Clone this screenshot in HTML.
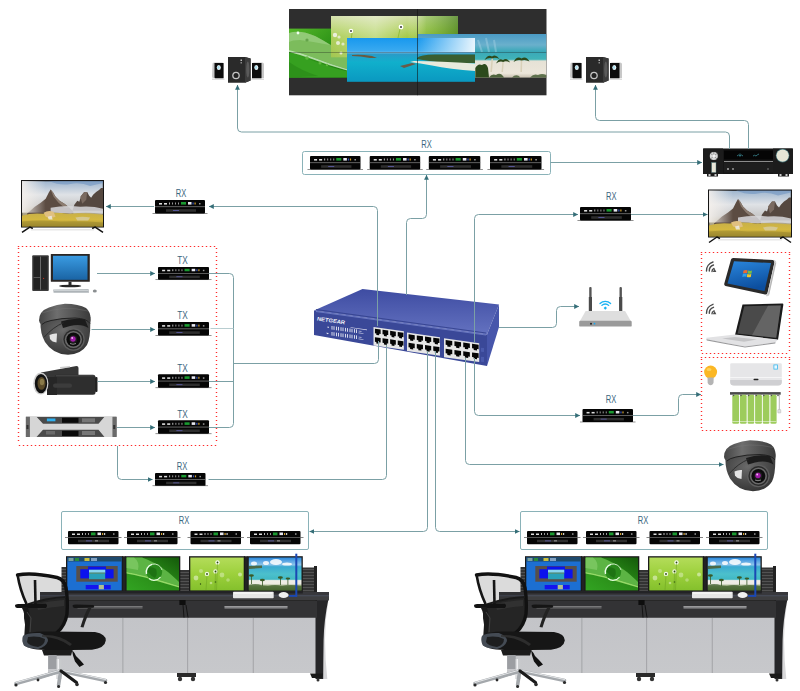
<!DOCTYPE html>
<html><head><meta charset="utf-8">
<style>
html,body{margin:0;padding:0;background:#fff;width:800px;height:691px;overflow:hidden;}
svg{display:block;font-family:"Liberation Sans",sans-serif;}
</style></head><body>
<svg width="800" height="691" viewBox="0 0 800 691">
<defs>
  <marker id="ar" viewBox="0 0 5 5" refX="4.8" refY="2.5" markerWidth="5" markerHeight="5" markerUnits="userSpaceOnUse" orient="auto">
    <path d="M0,0.1 L5,2.5 L0,4.9 z" fill="#356e78"/>
  </marker>
  <!-- extender device, body 50x13.5 -->
  <g id="dev">
    <rect x="-2.5" y="13" width="55" height="0.8" fill="#777"/>
    <rect x="0" y="0" width="50" height="13.5" rx="1" fill="#050505"/>
    <rect x="0" y="6.4" width="50" height="0.7" fill="#8a8a8a"/>
    <rect x="4" y="3" width="3" height="1.6" fill="#ddd"/>
    <rect x="9" y="3" width="3" height="1.6" fill="#ddd"/>
    <rect x="14" y="2.5" width="1" height="2" fill="#bbb"/>
    <rect x="17" y="2.5" width="1" height="2" fill="#999"/>
    <rect x="20" y="2.5" width="1" height="2" fill="#999"/>
    <rect x="23" y="2.5" width="1" height="2" fill="#999"/>
    <rect x="26" y="2" width="5" height="2.6" fill="#1a9a30"/>
    <rect x="33" y="2" width="3.5" height="2.6" fill="#e8e8f0"/>
    <rect x="37.5" y="2.5" width="1.2" height="2" fill="#3050c0"/>
    <rect x="39.5" y="2.5" width="1.2" height="2" fill="#d0a030"/>
    <rect x="44" y="3" width="1.5" height="1.5" fill="#999"/>
    <rect x="11" y="9.2" width="30" height="2.6" fill="#2e2e2e"/>
    <rect x="18" y="10" width="6" height="0.8" fill="#6060b0"/>
  </g>
  <g id="dev2">
    <rect x="0" y="0" width="50.5" height="13.2" rx="1" fill="#050505"/>
    <rect x="-3" y="6" width="56.5" height="0.8" fill="#666"/>
    <rect x="4" y="2.5" width="3" height="1.5" fill="#ddd"/>
    <rect x="9" y="2.5" width="3" height="1.5" fill="#ddd"/>
    <rect x="14" y="2" width="1" height="2" fill="#bbb"/>
    <rect x="17" y="2" width="1" height="2" fill="#999"/>
    <rect x="20" y="2" width="1" height="2" fill="#999"/>
    <rect x="23" y="1.5" width="4.5" height="2.8" fill="#1a9a30"/>
    <rect x="29.5" y="1.5" width="3.5" height="2.6" fill="#e8e8f0"/>
    <rect x="34" y="2" width="1.2" height="2" fill="#d0a030"/>
    <rect x="36" y="2" width="1.2" height="2" fill="#ccc"/>
    <rect x="45" y="2.3" width="1.5" height="1.5" fill="#999"/>
    <rect x="10" y="8.8" width="31" height="2.4" fill="#2e2e2e"/>
    <rect x="18" y="9.5" width="6" height="0.8" fill="#6060b0"/>
    <rect x="27" y="9.5" width="3" height="0.8" fill="#bbb"/>
  </g>
  <linearGradient id="tvsky" x1="0" y1="0" x2="0" y2="1">
    <stop offset="0" stop-color="#9fb6cf"/>
    <stop offset="0.3" stop-color="#dfe2e6"/>
    <stop offset="0.55" stop-color="#c8c8c8"/>
    <stop offset="0.7" stop-color="#b0a890"/>
    <stop offset="1" stop-color="#a08a3a"/>
  </linearGradient>
  <linearGradient id="tvmead" x1="0" y1="0" x2="0" y2="1">
    <stop offset="0" stop-color="#c8b048"/>
    <stop offset="0.5" stop-color="#d4b840"/>
    <stop offset="1" stop-color="#a89030"/>
  </linearGradient>
  <linearGradient id="tvleft" x1="0" y1="0" x2="1" y2="0">
    <stop offset="0" stop-color="#f4f0ec" stop-opacity="0.9"/>
    <stop offset="1" stop-color="#f4f0ec" stop-opacity="0"/>
  </linearGradient>
  <g id="tv">
    <rect x="0" y="0" width="84" height="48" fill="#151515"/>
    <rect x="1.2" y="1.3" width="81.6" height="45.5" fill="url(#tvsky)"/>
    <path d="M28,1 Q40,6 50,4 Q60,2 70,6 L83,3 L83,1z" fill="#6a90c0" opacity="0.55"/>
    <path d="M6,34 L14,27 L20,23 L25,19 L28,13 L30,9.5 L32.5,12.5 L35,17 L39,21 L44,24 L49,28 L53,32 L53,37 L6,37z" fill="#5c4c42"/>
    <path d="M30,9.5 L32.5,12.5 L35,17 L39,21 L44,24 L49,28 L44,28 L38,23 L33,17z" fill="#8c7c70"/>
    <path d="M52,31 L54,25 L57,21 L59,22 L61,16 L64,12 L67,12 L69,16 L71,18 L73,15 L76,12 L79,10 L81,8 L83,8 L83,31z" fill="#554840"/>
    <path d="M60,17 L64,12 L67,12 L66,20 L62,24z" fill="#7a6a60"/>
    <rect x="1" y="1" width="24" height="32" fill="url(#tvleft)"/>
    <path d="M30,28 Q45,25 60,27 Q72,26 83,29 L83,34 Q65,32 50,34 Q40,33 30,33z" fill="#d8d8dc" opacity="0.85"/>
    <path d="M1,36 Q10,33 22,34 Q34,32 48,34 Q62,33 83,35 L83,47 L1,47z" fill="url(#tvmead)"/>
    <path d="M23,33 Q27,30.5 33,32 L35,37 Q30,39 25,37z" fill="#e0c080"/>
    <path d="M27,37 L31,36 L32,40 L28,40z" fill="#eeeeee" opacity="0.8"/>
    <path d="M55,38 Q62,36 70,38 L68,41 L57,41z" fill="#d8d4c8" opacity="0.6"/>
    <path d="M1,42 Q20,40 40,42 Q60,41 83,43 L83,47 L1,47z" fill="#8a7a2a" opacity="0.4"/>
    <path d="M1,53 L9,47.5 L12,49" stroke="#111" stroke-width="1.5" fill="none"/>
    <path d="M83,53 L75,47.5 L72,49" stroke="#111" stroke-width="1.5" fill="none"/>
    <rect x="10" y="49.5" width="64" height="1.5" fill="#d8d8d8" opacity="0.6"/>
  </g>
</defs>


<!-- ============ VIDEO WALL ============ -->
<defs>
  <linearGradient id="grass" x1="0" y1="0" x2="0" y2="1">
    <stop offset="0" stop-color="#d2dea6"/>
    <stop offset="0.25" stop-color="#bcd676"/>
    <stop offset="0.5" stop-color="#a6ca4a"/>
    <stop offset="1" stop-color="#98c03c"/>
  </linearGradient>
  <linearGradient id="grass2" x1="0" y1="0" x2="1" y2="0">
    <stop offset="0" stop-color="#fff" stop-opacity="0.1"/>
    <stop offset="0.35" stop-color="#fff" stop-opacity="0.35"/>
    <stop offset="0.6" stop-color="#fff" stop-opacity="0.0"/>
    <stop offset="0.75" stop-color="#4a9a10" stop-opacity="0.3"/>
    <stop offset="1" stop-color="#2a6a08" stop-opacity="0.6"/>
  </linearGradient>
  <linearGradient id="leaf" x1="0" y1="0" x2="1" y2="1">
    <stop offset="0" stop-color="#56b82a"/>
    <stop offset="0.5" stop-color="#2f9418"/>
    <stop offset="1" stop-color="#1e7a10"/>
  </linearGradient>
  <linearGradient id="ocean" x1="0" y1="0" x2="0" y2="1">
    <stop offset="0" stop-color="#1898ee"/>
    <stop offset="0.3" stop-color="#3aaaf0"/>
    <stop offset="0.34" stop-color="#8ac8ea"/>
    <stop offset="0.36" stop-color="#2a9ac8"/>
    <stop offset="0.55" stop-color="#10b0cc"/>
    <stop offset="1" stop-color="#0a98c0"/>
  </linearGradient>
  <linearGradient id="oceansky" x1="0" y1="0" x2="1" y2="0">
    <stop offset="0.55" stop-color="#fff" stop-opacity="0"/>
    <stop offset="1" stop-color="#fff" stop-opacity="0.9"/>
  </linearGradient>
  <linearGradient id="beach" x1="0" y1="0" x2="0" y2="1">
    <stop offset="0" stop-color="#4a9ac4"/>
    <stop offset="0.25" stop-color="#6ab0cc"/>
    <stop offset="0.4" stop-color="#3aa8b8"/>
    <stop offset="0.58" stop-color="#40b4b8"/>
    <stop offset="0.62" stop-color="#e6e2d6"/>
    <stop offset="0.9" stop-color="#ece6da"/>
    <stop offset="1" stop-color="#c8c0b0"/>
  </linearGradient>
</defs>
<rect x="289" y="9" width="257.5" height="86.3" fill="#2e2e2e"/>
<rect x="289" y="28.6" width="58" height="49" fill="url(#leaf)"/>
<path d="M289,33 Q300,29.5 315,36 Q332,45 347,55 L347,69 Q330,64 312,57 Q298,52 289,50z" fill="#7cbc5c"/>
<path d="M289,33 Q300,29.5 315,36 Q325,41 330,45 Q315,42 300,40 Q292,40 289,42z" fill="#a0d488" opacity="0.6"/>
<path d="M289,50 Q298,52 312,57 Q330,64 347,69 L347,70.5 Q330,66 312,59 Q298,54 289,52z" fill="#d8f0d0" opacity="0.8"/>
<path d="M289,52 Q305,58 325,65 Q340,70 347,71 L347,77.6 L289,77.6z" fill="#36a020"/>
<path d="M289,62 Q300,70 318,76 L289,77.6z" fill="#2a8a18" opacity="0.7"/>
<circle cx="298" cy="33" r="1.4" fill="#f0fff0"/>
<circle cx="307" cy="40" r="1.6" fill="#5a9a40" opacity="0.8"/>
<circle cx="307" cy="58" r="1.8" fill="#60b840" opacity="0.9"/>
<circle cx="320" cy="63" r="1.5" fill="#60b840" opacity="0.9"/>
<circle cx="327" cy="65" r="1.3" fill="#60b840" opacity="0.9"/>
<rect x="331" y="16" width="127" height="41.3" fill="url(#grass)"/>
<rect x="331" y="16" width="127" height="41.3" fill="url(#grass2)"/>
<circle cx="351" cy="31" r="2.2" fill="#fff"/><circle cx="351" cy="31" r="0.9" fill="#333"/>
<circle cx="401" cy="27" r="2.4" fill="#fff"/><circle cx="401" cy="27" r="1" fill="#333"/>
<circle cx="335" cy="35" r="2.2" fill="#f4f4f0" opacity="0.85"/>
<circle cx="339" cy="37" r="1.6" fill="#f4f4f0" opacity="0.7"/>
<circle cx="338" cy="43" r="2" fill="#f4f4f0" opacity="0.8"/>
<circle cx="343" cy="44" r="1.6" fill="#f4f4f0" opacity="0.7"/>
<circle cx="341" cy="53" r="1.5" fill="#f4f4f0" opacity="0.8"/>
<path d="M352,33 L349,57 M400,29 L398,38" stroke="#8ab830" stroke-width="0.8"/>
<rect x="418" y="34" width="128.3" height="43.6" fill="url(#beach)"/>
<path d="M478,40 L482,52 M486,38 L489,52 M494,40 L496,52" stroke="#b8dcec" stroke-width="2" opacity="0.35"/>
<g fill="#2c4a1c">
  <path d="M490.3,72 L491.6,58 L493,58 L492,72z" fill="#d8d0b8"/>
  <path d="M501.5,72 L502.5,61 L503.8,61 L503,72z" fill="#d8d0b8"/>
  <path d="M520.4,72 L520.8,60 L522.2,60 L522,72z" fill="#d8d0b8"/>
  <path d="M484.5,60 Q488,54 492,56.5 Q496,53.5 499.5,59 Q495,57 492.3,58.5 Q489,57 484.5,60z"/>
  <path d="M496,63.5 Q499,57.5 503,60 Q507,57 510,62.5 Q506,60.5 503.2,62 Q500,60.5 496,63.5z"/>
  <path d="M513.5,62 Q517,55.5 521.5,58.5 Q526,55.5 529.5,61.5 Q525,59 521.6,60.5 Q518,59 513.5,62z"/>
  <path d="M475.3,77.6 L475.3,68 Q478,63 482,65 Q486,62 488,68 L489,77.6z"/>
  <path d="M489,77.6 Q492,73 496,75 Q500,72 503,76 L504,77.6z" opacity="0.8"/>
  <path d="M512,77.6 Q515,74 519,76 L520,77.6z" opacity="0.7"/>
  <path d="M530,77.6 Q534,73 538,75 Q542,73 546.3,75 L546.3,77.6z" opacity="0.7"/>
</g>
<rect x="347" y="38" width="128" height="43.8" fill="url(#ocean)"/>
<rect x="347" y="38" width="128" height="14" fill="url(#oceansky)"/>
<path d="M352,55 Q360,54 372,56 L377,58 L370,58 Q360,56 352,56z" fill="#6a5a40"/>
<path d="M417,58 Q420,54.5 435,54.5 L475,54.5 L475,63 L445,63 Q428,61 417,59z" fill="#3a5e30"/>
<path d="M414,61 Q440,61 475,63.5 L475,71 Q450,69 432,65.5 Q420,63 410,62z" fill="#e8eadc"/>
<path d="M400,66 L412,63 L416,64 L404,68z" fill="#6a5a48"/>
<line x1="289" y1="52.6" x2="546.3" y2="52.6" stroke="#1a1a1a" stroke-width="0.6" opacity="0.6"/>
<line x1="417.4" y1="9" x2="417.4" y2="95.3" stroke="#111" stroke-width="0.8" opacity="0.8"/>

<!-- ============ SPEAKERS ============ -->
<g id="spk">
  <path d="M212.5,63.5 Q213,62.5 215,62.5 L222,62.5 Q224,62.5 224,64 L224,78 L213,78 Q212,78 212,76z" fill="#c8c8c8"/>
  <path d="M214.5,63 L223.5,63 L223.5,78.5 L215.5,78.5 Q214.5,78.5 214.5,77z" fill="#0c0c0c"/>
  <ellipse cx="218.8" cy="67.5" rx="2" ry="2.5" fill="#e8f4f8"/>
  <ellipse cx="218.5" cy="67.5" rx="1.1" ry="1.4" fill="#a8e0f0"/>
  <rect x="212" y="78.5" width="12.5" height="1.5" fill="#ddd"/>
  <path d="M228,57 L245,57 L250.6,58.5 L250.6,80.5 L245,82.7 L228,82.7z" fill="#2a2a2a"/>
  <path d="M245,57 L250.6,58.5 L250.6,80.5 L245,82.7z" fill="#3c3c3c"/>
  <ellipse cx="247.8" cy="69.5" rx="1.6" ry="8" fill="#5a5a5a"/>
  <circle cx="236" cy="75.5" r="3.8" fill="#c4c4c4"/>
  <circle cx="236" cy="75.5" r="2.5" fill="#222"/>
  <rect x="240.5" y="59.5" width="1.5" height="1.5" fill="#bbb"/>
  <rect x="240.5" y="62" width="1.5" height="1.5" fill="#888"/>
  <path d="M252,64 Q252,62.5 254,62.5 L262,62.5 Q264,62.5 264,64 L264,78 L252,78z" fill="#c8c8c8"/>
  <path d="M252,63 L261.5,63 L261.5,78.5 L252,78.5z" fill="#0c0c0c"/>
  <ellipse cx="256.3" cy="67.5" rx="2" ry="2.5" fill="#e8f4f8"/>
  <ellipse cx="256" cy="67.5" rx="1.1" ry="1.4" fill="#a8e0f0"/>
  <rect x="251.5" y="78.5" width="12.5" height="1.5" fill="#ddd"/>
</g>
<use href="#spk" x="358" y="0"/>

<!-- ============ AV RECEIVER ============ -->
<g>
  <rect x="703" y="148.5" width="90" height="25.5" rx="1.2" fill="#161616"/>
  <rect x="707" y="173.5" width="11" height="3" fill="#1a1a1a"/>
  <rect x="708.5" y="174" width="2" height="2" fill="#ccc"/>
  <rect x="714.5" y="174" width="2" height="2" fill="#ccc"/>
  <rect x="778" y="173.5" width="11" height="3" fill="#1a1a1a"/>
  <rect x="779.5" y="174" width="2" height="2" fill="#ccc"/>
  <rect x="785.5" y="174" width="2" height="2" fill="#ccc"/>
  <rect x="703" y="148.5" width="20" height="25.5" fill="#1c1c1c"/>
  <circle cx="713.8" cy="156" r="4.6" fill="#2a2a2a"/>
  <circle cx="713.8" cy="156" r="4" fill="#d8d8d8"/>
  <path d="M713.8,156 L710,153 M713.8,156 L717.6,153 M713.8,156 L713.8,152 M713.8,156 L710.5,159 M713.8,156 L717,159" stroke="#666" stroke-width="0.6"/>
  <circle cx="713.8" cy="156" r="1.4" fill="#f4f4f4"/>
  <rect x="711.6" y="162.5" width="4.4" height="10" fill="#e9e6d8" stroke="#4a7a80" stroke-width="0.4"/>
  <rect x="724" y="150.5" width="49" height="9" fill="#050505"/>
  <path d="M737,156 q1.5,-2 3,0 q1.5,-2 3,0 M740,153.5 v3 M753,156 q1.5,-1.5 3,0 q1.5,-1.5 3,-2" stroke="#3a8a96" stroke-width="0.8" fill="none"/>
  <rect x="724" y="161" width="49" height="0.9" fill="#9a9a9a"/>
  <rect x="724" y="162.5" width="49" height="10" fill="#1e1e1e"/>
  <rect x="727" y="168" width="2" height="2" fill="#888"/>
  <rect x="732" y="168" width="2" height="2" fill="#777"/>
  <circle cx="768" cy="169" r="1.1" fill="#555"/>
  <rect x="773" y="148.5" width="20" height="25.5" fill="#1c1c1c"/>
  <circle cx="782.6" cy="155.6" r="6.8" fill="#3a6a70"/>
  <circle cx="782.6" cy="155.6" r="6.2" fill="#e6e6d6"/>
</g>

<!-- ============ RX TOP CONTAINER ============ -->
<rect x="302.5" y="151.5" width="248" height="23" rx="2" fill="none" stroke="#8ab2b8" stroke-width="1"/>

<!-- ============ TVs ============ -->
<use href="#tv" transform="translate(21,180) scale(0.988,0.99)"/>
<use href="#tv" x="708" y="189.5"/>

<!-- ============ DOTTED BOXES ============ -->
<path fill="#ff2a2a" d="M17.8,246h1.4v1h-1.4zM21.8,246h1.4v1h-1.4zM25.8,246h1.4v1h-1.4zM29.8,246h1.4v1h-1.4zM33.8,246h1.4v1h-1.4zM37.8,246h1.4v1h-1.4zM41.8,246h1.4v1h-1.4zM45.8,246h1.4v1h-1.4zM49.8,246h1.4v1h-1.4zM53.8,246h1.4v1h-1.4zM57.8,246h1.4v1h-1.4zM61.8,246h1.4v1h-1.4zM65.8,246h1.4v1h-1.4zM69.8,246h1.4v1h-1.4zM73.8,246h1.4v1h-1.4zM77.8,246h1.4v1h-1.4zM81.8,246h1.4v1h-1.4zM85.8,246h1.4v1h-1.4zM89.8,246h1.4v1h-1.4zM93.8,246h1.4v1h-1.4zM97.8,246h1.4v1h-1.4zM101.8,246h1.4v1h-1.4zM105.8,246h1.4v1h-1.4zM109.8,246h1.4v1h-1.4zM113.8,246h1.4v1h-1.4zM117.8,246h1.4v1h-1.4zM121.8,246h1.4v1h-1.4zM125.8,246h1.4v1h-1.4zM129.8,246h1.4v1h-1.4zM133.8,246h1.4v1h-1.4zM137.8,246h1.4v1h-1.4zM141.8,246h1.4v1h-1.4zM145.8,246h1.4v1h-1.4zM149.8,246h1.4v1h-1.4zM153.8,246h1.4v1h-1.4zM157.8,246h1.4v1h-1.4zM161.8,246h1.4v1h-1.4zM165.8,246h1.4v1h-1.4zM169.8,246h1.4v1h-1.4zM173.8,246h1.4v1h-1.4zM177.8,246h1.4v1h-1.4zM181.8,246h1.4v1h-1.4zM185.8,246h1.4v1h-1.4zM189.8,246h1.4v1h-1.4zM193.8,246h1.4v1h-1.4zM197.8,246h1.4v1h-1.4zM201.8,246h1.4v1h-1.4zM205.8,246h1.4v1h-1.4zM209.8,246h1.4v1h-1.4zM213.8,246h1.4v1h-1.4zM18.8,445h1.4v1h-1.4zM22.8,445h1.4v1h-1.4zM26.8,445h1.4v1h-1.4zM30.8,445h1.4v1h-1.4zM34.8,445h1.4v1h-1.4zM38.8,445h1.4v1h-1.4zM42.8,445h1.4v1h-1.4zM46.8,445h1.4v1h-1.4zM50.8,445h1.4v1h-1.4zM54.8,445h1.4v1h-1.4zM58.8,445h1.4v1h-1.4zM62.8,445h1.4v1h-1.4zM66.8,445h1.4v1h-1.4zM70.8,445h1.4v1h-1.4zM74.8,445h1.4v1h-1.4zM78.8,445h1.4v1h-1.4zM82.8,445h1.4v1h-1.4zM86.8,445h1.4v1h-1.4zM90.8,445h1.4v1h-1.4zM94.8,445h1.4v1h-1.4zM98.8,445h1.4v1h-1.4zM102.8,445h1.4v1h-1.4zM106.8,445h1.4v1h-1.4zM110.8,445h1.4v1h-1.4zM114.8,445h1.4v1h-1.4zM118.8,445h1.4v1h-1.4zM122.8,445h1.4v1h-1.4zM126.8,445h1.4v1h-1.4zM130.8,445h1.4v1h-1.4zM134.8,445h1.4v1h-1.4zM138.8,445h1.4v1h-1.4zM142.8,445h1.4v1h-1.4zM146.8,445h1.4v1h-1.4zM150.8,445h1.4v1h-1.4zM154.8,445h1.4v1h-1.4zM158.8,445h1.4v1h-1.4zM162.8,445h1.4v1h-1.4zM166.8,445h1.4v1h-1.4zM170.8,445h1.4v1h-1.4zM174.8,445h1.4v1h-1.4zM178.8,445h1.4v1h-1.4zM182.8,445h1.4v1h-1.4zM186.8,445h1.4v1h-1.4zM190.8,445h1.4v1h-1.4zM194.8,445h1.4v1h-1.4zM198.8,445h1.4v1h-1.4zM202.8,445h1.4v1h-1.4zM206.8,445h1.4v1h-1.4zM210.8,445h1.4v1h-1.4zM214.8,445h1.4v1h-1.4zM17.8,248h1.4v1h-1.4zM215.8,248h1.4v1h-1.4zM17.8,252h1.4v1h-1.4zM215.8,252h1.4v1h-1.4zM17.8,256h1.4v1h-1.4zM215.8,256h1.4v1h-1.4zM17.8,260h1.4v1h-1.4zM215.8,260h1.4v1h-1.4zM17.8,264h1.4v1h-1.4zM215.8,264h1.4v1h-1.4zM17.8,268h1.4v1h-1.4zM215.8,268h1.4v1h-1.4zM17.8,272h1.4v1h-1.4zM215.8,272h1.4v1h-1.4zM17.8,276h1.4v1h-1.4zM215.8,276h1.4v1h-1.4zM17.8,280h1.4v1h-1.4zM215.8,280h1.4v1h-1.4zM17.8,284h1.4v1h-1.4zM215.8,284h1.4v1h-1.4zM17.8,288h1.4v1h-1.4zM215.8,288h1.4v1h-1.4zM17.8,292h1.4v1h-1.4zM215.8,292h1.4v1h-1.4zM17.8,296h1.4v1h-1.4zM215.8,296h1.4v1h-1.4zM17.8,300h1.4v1h-1.4zM215.8,300h1.4v1h-1.4zM17.8,304h1.4v1h-1.4zM215.8,304h1.4v1h-1.4zM17.8,308h1.4v1h-1.4zM215.8,308h1.4v1h-1.4zM17.8,312h1.4v1h-1.4zM215.8,312h1.4v1h-1.4zM17.8,316h1.4v1h-1.4zM215.8,316h1.4v1h-1.4zM17.8,320h1.4v1h-1.4zM215.8,320h1.4v1h-1.4zM17.8,324h1.4v1h-1.4zM215.8,324h1.4v1h-1.4zM17.8,328h1.4v1h-1.4zM215.8,328h1.4v1h-1.4zM17.8,332h1.4v1h-1.4zM215.8,332h1.4v1h-1.4zM17.8,336h1.4v1h-1.4zM215.8,336h1.4v1h-1.4zM17.8,340h1.4v1h-1.4zM215.8,340h1.4v1h-1.4zM17.8,344h1.4v1h-1.4zM215.8,344h1.4v1h-1.4zM17.8,348h1.4v1h-1.4zM215.8,348h1.4v1h-1.4zM17.8,352h1.4v1h-1.4zM215.8,352h1.4v1h-1.4zM17.8,356h1.4v1h-1.4zM215.8,356h1.4v1h-1.4zM17.8,360h1.4v1h-1.4zM215.8,360h1.4v1h-1.4zM17.8,364h1.4v1h-1.4zM215.8,364h1.4v1h-1.4zM17.8,368h1.4v1h-1.4zM215.8,368h1.4v1h-1.4zM17.8,372h1.4v1h-1.4zM215.8,372h1.4v1h-1.4zM17.8,376h1.4v1h-1.4zM215.8,376h1.4v1h-1.4zM17.8,380h1.4v1h-1.4zM215.8,380h1.4v1h-1.4zM17.8,384h1.4v1h-1.4zM215.8,384h1.4v1h-1.4zM17.8,388h1.4v1h-1.4zM215.8,388h1.4v1h-1.4zM17.8,392h1.4v1h-1.4zM215.8,392h1.4v1h-1.4zM17.8,396h1.4v1h-1.4zM215.8,396h1.4v1h-1.4zM17.8,400h1.4v1h-1.4zM215.8,400h1.4v1h-1.4zM17.8,404h1.4v1h-1.4zM215.8,404h1.4v1h-1.4zM17.8,408h1.4v1h-1.4zM215.8,408h1.4v1h-1.4zM17.8,412h1.4v1h-1.4zM215.8,412h1.4v1h-1.4zM17.8,416h1.4v1h-1.4zM215.8,416h1.4v1h-1.4zM17.8,420h1.4v1h-1.4zM215.8,420h1.4v1h-1.4zM17.8,424h1.4v1h-1.4zM215.8,424h1.4v1h-1.4zM17.8,428h1.4v1h-1.4zM215.8,428h1.4v1h-1.4zM17.8,432h1.4v1h-1.4zM215.8,432h1.4v1h-1.4zM17.8,436h1.4v1h-1.4zM215.8,436h1.4v1h-1.4zM17.8,440h1.4v1h-1.4zM215.8,440h1.4v1h-1.4zM700.8,252h1.4v1h-1.4zM704.8,252h1.4v1h-1.4zM708.8,252h1.4v1h-1.4zM712.8,252h1.4v1h-1.4zM716.8,252h1.4v1h-1.4zM720.8,252h1.4v1h-1.4zM724.8,252h1.4v1h-1.4zM728.8,252h1.4v1h-1.4zM732.8,252h1.4v1h-1.4zM736.8,252h1.4v1h-1.4zM740.8,252h1.4v1h-1.4zM744.8,252h1.4v1h-1.4zM748.8,252h1.4v1h-1.4zM752.8,252h1.4v1h-1.4zM756.8,252h1.4v1h-1.4zM760.8,252h1.4v1h-1.4zM764.8,252h1.4v1h-1.4zM768.8,252h1.4v1h-1.4zM772.8,252h1.4v1h-1.4zM776.8,252h1.4v1h-1.4zM780.8,252h1.4v1h-1.4zM784.8,252h1.4v1h-1.4zM788.8,252h1.4v1h-1.4zM701.8,353h1.4v1h-1.4zM705.8,353h1.4v1h-1.4zM709.8,353h1.4v1h-1.4zM713.8,353h1.4v1h-1.4zM717.8,353h1.4v1h-1.4zM721.8,353h1.4v1h-1.4zM725.8,353h1.4v1h-1.4zM729.8,353h1.4v1h-1.4zM733.8,353h1.4v1h-1.4zM737.8,353h1.4v1h-1.4zM741.8,353h1.4v1h-1.4zM745.8,353h1.4v1h-1.4zM749.8,353h1.4v1h-1.4zM753.8,353h1.4v1h-1.4zM757.8,353h1.4v1h-1.4zM761.8,353h1.4v1h-1.4zM765.8,353h1.4v1h-1.4zM769.8,353h1.4v1h-1.4zM773.8,353h1.4v1h-1.4zM777.8,353h1.4v1h-1.4zM781.8,353h1.4v1h-1.4zM785.8,353h1.4v1h-1.4zM700.8,254h1.4v1h-1.4zM788.8,254h1.4v1h-1.4zM700.8,258h1.4v1h-1.4zM788.8,258h1.4v1h-1.4zM700.8,262h1.4v1h-1.4zM788.8,262h1.4v1h-1.4zM700.8,266h1.4v1h-1.4zM788.8,266h1.4v1h-1.4zM700.8,270h1.4v1h-1.4zM788.8,270h1.4v1h-1.4zM700.8,274h1.4v1h-1.4zM788.8,274h1.4v1h-1.4zM700.8,278h1.4v1h-1.4zM788.8,278h1.4v1h-1.4zM700.8,282h1.4v1h-1.4zM788.8,282h1.4v1h-1.4zM700.8,286h1.4v1h-1.4zM788.8,286h1.4v1h-1.4zM700.8,290h1.4v1h-1.4zM788.8,290h1.4v1h-1.4zM700.8,294h1.4v1h-1.4zM788.8,294h1.4v1h-1.4zM700.8,298h1.4v1h-1.4zM788.8,298h1.4v1h-1.4zM700.8,302h1.4v1h-1.4zM788.8,302h1.4v1h-1.4zM700.8,306h1.4v1h-1.4zM788.8,306h1.4v1h-1.4zM700.8,310h1.4v1h-1.4zM788.8,310h1.4v1h-1.4zM700.8,314h1.4v1h-1.4zM788.8,314h1.4v1h-1.4zM700.8,318h1.4v1h-1.4zM788.8,318h1.4v1h-1.4zM700.8,322h1.4v1h-1.4zM788.8,322h1.4v1h-1.4zM700.8,326h1.4v1h-1.4zM788.8,326h1.4v1h-1.4zM700.8,330h1.4v1h-1.4zM788.8,330h1.4v1h-1.4zM700.8,334h1.4v1h-1.4zM788.8,334h1.4v1h-1.4zM700.8,338h1.4v1h-1.4zM788.8,338h1.4v1h-1.4zM700.8,342h1.4v1h-1.4zM788.8,342h1.4v1h-1.4zM700.8,346h1.4v1h-1.4zM788.8,346h1.4v1h-1.4zM700.8,350h1.4v1h-1.4zM788.8,350h1.4v1h-1.4zM700.8,357h1.4v1h-1.4zM704.8,357h1.4v1h-1.4zM708.8,357h1.4v1h-1.4zM712.8,357h1.4v1h-1.4zM716.8,357h1.4v1h-1.4zM720.8,357h1.4v1h-1.4zM724.8,357h1.4v1h-1.4zM728.8,357h1.4v1h-1.4zM732.8,357h1.4v1h-1.4zM736.8,357h1.4v1h-1.4zM740.8,357h1.4v1h-1.4zM744.8,357h1.4v1h-1.4zM748.8,357h1.4v1h-1.4zM752.8,357h1.4v1h-1.4zM756.8,357h1.4v1h-1.4zM760.8,357h1.4v1h-1.4zM764.8,357h1.4v1h-1.4zM768.8,357h1.4v1h-1.4zM772.8,357h1.4v1h-1.4zM776.8,357h1.4v1h-1.4zM780.8,357h1.4v1h-1.4zM784.8,357h1.4v1h-1.4zM788.8,357h1.4v1h-1.4zM701.8,430h1.4v1h-1.4zM705.8,430h1.4v1h-1.4zM709.8,430h1.4v1h-1.4zM713.8,430h1.4v1h-1.4zM717.8,430h1.4v1h-1.4zM721.8,430h1.4v1h-1.4zM725.8,430h1.4v1h-1.4zM729.8,430h1.4v1h-1.4zM733.8,430h1.4v1h-1.4zM737.8,430h1.4v1h-1.4zM741.8,430h1.4v1h-1.4zM745.8,430h1.4v1h-1.4zM749.8,430h1.4v1h-1.4zM753.8,430h1.4v1h-1.4zM757.8,430h1.4v1h-1.4zM761.8,430h1.4v1h-1.4zM765.8,430h1.4v1h-1.4zM769.8,430h1.4v1h-1.4zM773.8,430h1.4v1h-1.4zM777.8,430h1.4v1h-1.4zM781.8,430h1.4v1h-1.4zM785.8,430h1.4v1h-1.4zM700.8,359h1.4v1h-1.4zM788.8,359h1.4v1h-1.4zM700.8,363h1.4v1h-1.4zM788.8,363h1.4v1h-1.4zM700.8,367h1.4v1h-1.4zM788.8,367h1.4v1h-1.4zM700.8,371h1.4v1h-1.4zM788.8,371h1.4v1h-1.4zM700.8,375h1.4v1h-1.4zM788.8,375h1.4v1h-1.4zM700.8,379h1.4v1h-1.4zM788.8,379h1.4v1h-1.4zM700.8,383h1.4v1h-1.4zM788.8,383h1.4v1h-1.4zM700.8,387h1.4v1h-1.4zM788.8,387h1.4v1h-1.4zM700.8,391h1.4v1h-1.4zM788.8,391h1.4v1h-1.4zM700.8,395h1.4v1h-1.4zM788.8,395h1.4v1h-1.4zM700.8,399h1.4v1h-1.4zM788.8,399h1.4v1h-1.4zM700.8,403h1.4v1h-1.4zM788.8,403h1.4v1h-1.4zM700.8,407h1.4v1h-1.4zM788.8,407h1.4v1h-1.4zM700.8,411h1.4v1h-1.4zM788.8,411h1.4v1h-1.4zM700.8,415h1.4v1h-1.4zM788.8,415h1.4v1h-1.4zM700.8,419h1.4v1h-1.4zM788.8,419h1.4v1h-1.4zM700.8,423h1.4v1h-1.4zM788.8,423h1.4v1h-1.4zM700.8,427h1.4v1h-1.4zM788.8,427h1.4v1h-1.4z"/>


<!-- ============ SWITCH ============ -->
<defs>
  <linearGradient id="swtop" x1="0" y1="0" x2="0" y2="1">
    <stop offset="0" stop-color="#3e4ca2"/>
    <stop offset="1" stop-color="#6472c0"/>
  </linearGradient>
  <g id="portgrp">
    <!-- local: width w=32 height 18 -->
    <rect x="0" y="0" width="32" height="18.5" fill="#e6e6e6"/>
    <g fill="#050505">
      <path d="M1.5,1.5 h6 v4.5 h-1.5 v1.5 h-3 v-1.5 h-1.5z"/>
      <path d="M9.5,1.5 h6 v4.5 h-1.5 v1.5 h-3 v-1.5 h-1.5z"/>
      <path d="M17.5,1.5 h6 v4.5 h-1.5 v1.5 h-3 v-1.5 h-1.5z"/>
      <path d="M25.5,1.5 h6 v4.5 h-1.5 v1.5 h-3 v-1.5 h-1.5z"/>
      <path d="M1.5,10 h6 v4.5 h-1.5 v1.5 h-3 v-1.5 h-1.5z"/>
      <path d="M9.5,10 h6 v4.5 h-1.5 v1.5 h-3 v-1.5 h-1.5z"/>
      <path d="M17.5,10 h6 v4.5 h-1.5 v1.5 h-3 v-1.5 h-1.5z"/>
      <path d="M25.5,10 h6 v4.5 h-1.5 v1.5 h-3 v-1.5 h-1.5z"/>
    </g>
  </g>
</defs>
<polygon points="314,310.5 362.5,289 499,304.5 487,334.5" fill="url(#swtop)"/>
<polygon points="314,310.5 487,334.5 487,366 314,335" fill="#3a4898"/>
<polygon points="487,334.5 499,304.5 499,327 487,366" fill="#4756ab"/>
<path d="M316,309.5 L486,333" stroke="#2e3c88" stroke-width="0.8"/>
<path d="M316,311.5 L486,335" stroke="#6a78c2" stroke-width="1.2"/>
<g transform="translate(314,310.5) skewY(7.9)">
  <text x="3" y="9.5" font-size="5.4" font-weight="bold" font-style="italic" fill="#f4f4f8" textLength="28" lengthAdjust="spacingAndGlyphs">NETGEAR</text>
  <rect x="36.5" y="11.6" width="16.5" height="0.7" fill="#dde"/>
  <rect x="13.5" y="14.2" width="1.3" height="1.3" fill="#e8e8f0"/>
  <path d="M12,20.5 L15,20.5 L13.5,22z" fill="#e8e8f0"/>
  <g fill="#d6d9ec">
    <rect x="17.5" y="13" width="1" height="3.6"/><rect x="19.5" y="13" width="1" height="3.6"/>
    <rect x="22" y="13" width="1" height="3.6"/><rect x="24" y="13" width="1" height="3.6"/>
    <rect x="26.5" y="13" width="1" height="3.6"/><rect x="28.5" y="13" width="1" height="3.6"/>
    <rect x="31" y="13" width="1" height="3.6"/><rect x="33" y="13" width="1" height="3.6"/>
    <rect x="35.5" y="13" width="1" height="3.6"/><rect x="37.5" y="13" width="1" height="3.6"/>
    <rect x="40" y="13" width="1" height="3.6"/><rect x="42" y="13" width="1" height="3.6"/>
    <rect x="44.5" y="14" width="3" height="0.7"/><rect x="44.5" y="15.8" width="5" height="0.7"/>
    <rect x="17.5" y="19" width="1" height="3.6"/><rect x="19.5" y="19" width="1" height="3.6"/>
    <rect x="22" y="19" width="1" height="3.6"/><rect x="24" y="19" width="1" height="3.6"/>
    <rect x="26.5" y="19" width="1" height="3.6"/><rect x="28.5" y="19" width="1" height="3.6"/>
    <rect x="31" y="19" width="1" height="3.6"/><rect x="33" y="19" width="1" height="3.6"/>
    <rect x="35.5" y="19" width="1" height="3.6"/><rect x="37.5" y="19" width="1" height="3.6"/>
    <rect x="40" y="19" width="1" height="3.6"/><rect x="42" y="19" width="1" height="3.6"/>
    <rect x="44.5" y="20" width="3" height="0.7"/><rect x="44.5" y="21.8" width="5" height="0.7"/>
  </g>
  <use href="#portgrp" transform="translate(59.5,8.3) scale(0.95,1)"/>
  <use href="#portgrp" transform="translate(93,9.2) scale(1.03,1)"/>
  <use href="#portgrp" transform="translate(130,9.8) scale(1.1,1.02)"/>
  <rect x="167" y="14" width="3" height="4" fill="#4a5aac"/>
  <rect x="167" y="23" width="3" height="5" fill="#4a5aac"/>
</g>


<!-- ============ WORKSTATIONS ============ -->
<defs>
  <linearGradient id="m2g" x1="0" y1="1" x2="1" y2="0">
    <stop offset="0" stop-color="#32a422"/>
    <stop offset="0.5" stop-color="#2a8c18"/>
    <stop offset="1" stop-color="#145a0a"/>
  </linearGradient>
  <linearGradient id="m3g" x1="0" y1="0" x2="0" y2="1">
    <stop offset="0" stop-color="#b4dc5a"/>
    <stop offset="0.5" stop-color="#9cd03c"/>
    <stop offset="1" stop-color="#84c02c"/>
  </linearGradient>
  <linearGradient id="m4g" x1="0" y1="0" x2="0" y2="1">
    <stop offset="0" stop-color="#2a88dc"/>
    <stop offset="0.22" stop-color="#8cc4ea"/>
    <stop offset="0.28" stop-color="#3aaad0"/>
    <stop offset="0.5" stop-color="#4cc0cc"/>
    <stop offset="0.66" stop-color="#40b8c4"/>
    <stop offset="0.7" stop-color="#f0eee6"/>
    <stop offset="0.8" stop-color="#ecebe2"/>
    <stop offset="0.86" stop-color="#8aa070"/>
    <stop offset="1" stop-color="#5a7a3a"/>
  </linearGradient>
  <linearGradient id="cab" x1="0" y1="0" x2="0" y2="1">
    <stop offset="0" stop-color="#c3c4c8"/>
    <stop offset="1" stop-color="#c7c8cb"/>
  </linearGradient>
  <pattern id="slat" width="4" height="3" patternUnits="userSpaceOnUse">
    <rect width="4" height="3" fill="#333"/>
    <rect y="2" width="4" height="0.8" fill="#5a5a5a"/>
  </pattern>
  <g id="ws">
    <!-- back panels -->
    <rect x="61.5" y="567" width="6" height="26" fill="url(#slat)"/>
    <rect x="179" y="570" width="11" height="24" fill="url(#slat)"/>
    <rect x="302" y="567.5" width="15" height="26" fill="url(#slat)"/>
    <rect x="314" y="566" width="3" height="28" fill="#222"/>
    <!-- cabinet -->
    <rect x="48" y="617.5" width="268" height="55.5" fill="url(#cab)"/>
    <g fill="#9a9b9e">
      <rect x="122.5" y="618" width="0.8" height="55"/>
      <rect x="187.3" y="618" width="0.8" height="55"/>
      <rect x="252.8" y="618" width="0.8" height="55"/>
    </g>
    <!-- wheels -->
    <rect x="177" y="673" width="19" height="4" fill="#2a2a2a"/>
    <circle cx="180" cy="679" r="2.2" fill="#333"/><circle cx="193" cy="679" r="2.2" fill="#333"/>
    <!-- right leg -->
    <path d="M315.5,600 L328.5,600 Q325,620 325,640 Q325.2,660 327.3,679 L323,679 Q322.5,660 322.8,640 Q323,620 328.5,600z" fill="#d8d8da"/>
    <path d="M315.5,600 L328.3,600 Q324,620 323.6,640 Q323.3,660 323.2,679 L315.5,679z" fill="#262628"/>
    <path d="M310,673.5 L323,673.5 L322,678 L312,678z" fill="#1a1a1a"/>
    <circle cx="318" cy="680" r="1.5" fill="#333"/>
    <!-- desk top & front -->
    <rect x="40" y="592" width="289" height="5" fill="#38383c"/>
    <rect x="40" y="595.6" width="289" height="0.8" fill="#5a6478"/>
    <rect x="40" y="596.4" width="289" height="4" fill="#3e3e40"/>
    <rect x="40" y="600.2" width="277" height="17.6" fill="#333335"/>
    <rect x="40" y="600.2" width="277" height="0.8" fill="#1e1e1e"/>
    <rect x="179.4" y="600" width="6.2" height="5" fill="#0e0e0e"/>
    <path d="M183,605 L184,617.5 M186,605 L188,617.5" stroke="#111" stroke-width="0.9"/>
    <rect x="77.5" y="606.3" width="65" height="2.4" fill="#5a5a5c"/><rect x="77.5" y="606.3" width="65" height="0.8" fill="#8a8a8c"/>
    <rect x="224.5" y="606.3" width="63" height="2.4" fill="#7a7a7c"/><rect x="224.5" y="606.3" width="63" height="0.9" fill="#b0b0b2"/>
    
    <!-- monitors -->
    <rect x="122" y="556.2" width="4" height="36" fill="#222"/>
    <rect x="244" y="556.2" width="4" height="36" fill="#222"/>
    <rect x="66" y="556.2" width="57" height="36" fill="#1a1a1a"/>
    <rect x="67.3" y="557.5" width="54.4" height="33" fill="#1c6fd2"/>
    <rect x="67.3" y="557.5" width="54.4" height="4" fill="#1e4a6a"/>
    <rect x="68.5" y="558" width="5" height="3" fill="#7aa0a0"/>
    <rect x="75" y="558" width="4" height="3" fill="#2a8a3a"/>
    <rect x="84.5" y="558" width="5" height="3" fill="#c8c040"/>
    <rect x="91" y="558" width="6" height="3" fill="#80a0c0"/>
    <rect x="76.3" y="566" width="41.4" height="15.7" fill="#574f4a"/>
    <rect x="80.3" y="569.2" width="33.3" height="9.2" fill="#0b12ee"/>
    <rect x="88" y="566.5" width="18" height="3" fill="#0b12ee"/>
    <rect x="89" y="569.8" width="16.2" height="9.4" fill="#2aa0b8"/>
    <rect x="89" y="569.8" width="16.2" height="3" fill="#8ad4f0"/>
    <rect x="89" y="572.5" width="16.2" height="1.2" fill="#5a8a70"/>
    <rect x="85.7" y="585" width="25" height="4.3" fill="#1414ee"/>
    <rect x="98.7" y="585" width="5.2" height="4.3" fill="#b0c090"/>
    <rect x="125.3" y="556.2" width="55" height="36" fill="#1a1a1a"/>
    <rect x="126.6" y="557.5" width="52.4" height="33" fill="url(#m2g)"/>
    <path d="M126.6,557.5 L142,557.5 Q155,562 168,572 Q175,578 179,582 L179,586 Q160,580 145,576 Q133,573 126.6,572z" fill="#5cb444"/>
    <path d="M126.6,557.5 L134,557.5 Q140,562 138,570 L126.6,568z" fill="#8ad070" opacity="0.6"/>
    <path d="M126.6,572 Q133,573 145,576 Q160,580 179,586 L179,587.5 Q160,582 145,577.5 Q133,574.5 126.6,573.5z" fill="#a0e070" opacity="0.9"/>
    <circle cx="154.2" cy="572" r="8" fill="#2a8a1c"/>
    <path d="M148,568 Q152,566 156,569 Q158,574 155,578 Q151,576 148,572z" fill="#1a6a10" opacity="0.7"/>
    <path d="M146.5,574 A8,8 0 0 1 152,564.3" stroke="#f0fff0" stroke-width="1.4" fill="none"/>
    <path d="M152,564.3 A8,8 0 0 1 162,570" stroke="#c8e8c0" stroke-width="1" fill="none"/>
    <path d="M149,578.5 A8,8 0 0 0 160.5,577" stroke="#e8ffe0" stroke-width="1.2" fill="none"/>
    <rect x="189" y="556.2" width="56" height="36" fill="#1a1a1a"/>
    <rect x="190.3" y="557.5" width="53.4" height="33" fill="url(#m3g)"/>
    <g fill="#fff">
      <circle cx="217.5" cy="562.5" r="2.2" opacity="0.9"/><circle cx="207" cy="574" r="2.2" opacity="0.85"/><circle cx="215.5" cy="571.5" r="2.2" opacity="0.8"/>
      <circle cx="196" cy="578" r="2.4" opacity="0.45"/><circle cx="240" cy="574.5" r="2" opacity="0.45"/>
      <circle cx="222" cy="575" r="2.4" opacity="0.35"/><circle cx="201" cy="571" r="2" opacity="0.3"/>
      <circle cx="228" cy="580" r="1.8" opacity="0.3"/><circle cx="211" cy="583" r="1.3" opacity="0.4"/>
    </g>
    <g fill="#2a4a10"><circle cx="217.5" cy="562.5" r="0.9"/><circle cx="207" cy="574" r="0.9"/><circle cx="215.5" cy="571.5" r="0.9"/><circle cx="215.5" cy="582" r="0.8"/><circle cx="200.5" cy="584" r="0.7"/></g>
    <path d="M217.5,564 L216.5,590 M215.5,573 L215,590 M207,575.5 L206,590" stroke="#6aa020" stroke-width="0.7" opacity="0.7"/>
    <rect x="247.5" y="556.2" width="55.3" height="36" fill="#1a1a1a"/>
    <rect x="248.8" y="557.5" width="52.7" height="33" fill="url(#m4g)"/>
    <g fill="#fff" opacity="0.85"><ellipse cx="254" cy="563.5" rx="3" ry="2"/><ellipse cx="266" cy="563" rx="3" ry="2"/><ellipse cx="276" cy="562" rx="6" ry="3"/><ellipse cx="287" cy="564" rx="5" ry="1.6"/></g>
    <path d="M249,566 L262,565.5 L262,568 L249,569z" fill="#4a6a48"/>
    <g fill="#3a5a28">
      <path d="M249,590.5 L249,585 Q256,583 262,585.5 L268,586 Q275,584 282,586 Q290,584 301.5,586 L301.5,590.5z" opacity="0.65"/>
      <rect x="251" y="575" width="0.8" height="9"/><rect x="262" y="580" width="0.8" height="6"/><rect x="280" y="577" width="0.8" height="8"/><rect x="287.5" y="578" width="0.8" height="7"/>
      <ellipse cx="251.4" cy="575.5" rx="2.5" ry="1.2"/><ellipse cx="262.4" cy="580" rx="2.5" ry="1.2"/><ellipse cx="280.4" cy="577.5" rx="2.5" ry="1.2"/><ellipse cx="287.9" cy="578.5" rx="2.3" ry="1.1"/>
    </g>
    <!-- monitor bottom bezels/stands -->
    <rect x="66" y="590.8" width="236.8" height="2.7" fill="#232326"/>
    <!-- keyboard mouse -->
    <rect x="233" y="591.8" width="40.7" height="6.5" rx="0.8" fill="#e6e6e6"/>
    <rect x="234" y="592.5" width="38.5" height="1" fill="#fff"/>
    <ellipse cx="283.6" cy="595" rx="5" ry="3" fill="#f0f0f0"/>
    <!-- blue pole -->
    <rect x="295.3" y="553.7" width="2" height="43" fill="#1a48b4"/>
    <rect x="289" y="595" width="8" height="1.8" fill="#1a48b4"/>
    <!-- chair -->
    <g>
      <!-- backrest mesh -->
      <path d="M19,576 Q35,574.5 58,579.5 Q64,582 66,590 L67,600 L26,604 Q22,590 19,576z" fill="#000" opacity="0.14"/>
      <path d="M24,608 Q30,604 40,601 Q55,598 67.5,598 Q68,608 66.5,616 Q64,626 57,632.5 L28,637 Q25,628 24,618z" fill="#252525"/>
      <path d="M36,604 Q50,601 64,600 L64,606 Q50,607 38,610z" fill="#3a3a3a" opacity="0.6"/>
      <!-- backrest frame -->
      <path d="M17.5,575 Q32,572 57,577.5 Q64.5,579.5 66,588 Q68,600 67,614 Q65,626 57,632.5" fill="none" stroke="#111" stroke-width="3.4" stroke-linecap="round"/>
      <path d="M17.6,575 Q20,590 26.5,604" fill="none" stroke="#151515" stroke-width="2.6"/>
      <path d="M35,580 L35.5,604" fill="none" stroke="#151515" stroke-width="2.6"/>
      <path d="M26,605 Q45,598 66,597" fill="none" stroke="#1a1a1a" stroke-width="2"/>
      <!-- left arm -->
      <path d="M15,605.8 Q15,604 18,604 L46,603.8 Q48,605.5 46,608 L17,608 Q15,607.8 15,605.8z" fill="#121212"/>
      <path d="M21.5,607 Q25.5,614 25,625 Q24.5,632 24,640 L28.5,640 Q29.5,630 29.8,622 Q30,612 27.5,607z" fill="#1a1a1a"/>
      <path d="M27,612 L31,618 L30,632" stroke="#4a4a4a" stroke-width="0.8" fill="none"/>
      <!-- right arm -->
      <path d="M72.5,605.5 Q73,604.5 76,604.5 L93.5,605 Q95,606 93.5,607.8 L74.5,608 Q72.5,607.5 72.5,605.5z" fill="#151515"/>
      <path d="M88,608 Q84,615 80.5,627 L83.5,627.5 Q87,616 91.5,608z" fill="#222"/>
      <!-- seat -->
      <path d="M23,636 Q28,631 48,631.5 L95,632 Q106,634 105.8,640.5 Q105,648 92,649.8 L50,650.2 Q30,650 24,645.5 Q21.5,641 23,636z" fill="#161616"/>
      <path d="M23,636 Q27,632.5 40,633 Q48,636 48,641 Q46,647 38,649 Q28,648.5 24,645.5 Q21.5,641 23,636z" fill="#6c7888" opacity="0.55"/>
      <path d="M28,637 Q38,635.5 45,639 Q45,645 38,647 Q29,646 27,642z" fill="#1a1a1a" opacity="0.9"/>
      <path d="M42,635 Q60,634 72,644 L70,646 Q58,637 42,637z" fill="#333" opacity="0.8"/>
      <!-- mechanism -->
      <path d="M42,650 L72.5,650 L71,655.5 L44,655.5z" fill="#1c1c1c"/>
      <path d="M72,650 Q75,653 76,656 L80,660 L84,664.5 L79.5,667 L75,661.5 L73,655.5z" fill="#111"/>
      <!-- cylinder -->
      <rect x="48.2" y="655" width="8.5" height="14" fill="#9c9ea2"/>
      <rect x="56.5" y="659" width="5" height="20" fill="#c8cacc"/>
      <rect x="57.5" y="659" width="1.5" height="20" fill="#f0f0f2"/>
      <!-- base -->
      <g stroke="#a4a8ac" stroke-width="3.6" stroke-linecap="round" fill="none">
        <path d="M60.7,671 L16,683.5"/>
        <path d="M60.7,671 L38,678"/>
        <path d="M60.7,671 L105.5,680.5"/>
        <path d="M60.7,671 L58.6,685"/>
      </g>
      <g stroke="#e4e6e8" stroke-width="1" stroke-linecap="round" fill="none">
        <path d="M60.7,670 L16,682.5"/>
        <path d="M60.7,670 L105.5,679.5"/>
      </g>
      <path d="M61,671 L76.5,682.5" stroke="#1a1a1a" stroke-width="3.2" stroke-linecap="round"/>
      <g fill="#2a2a2a"><circle cx="16" cy="685" r="1.6"/><circle cx="105.5" cy="682.5" r="1.6"/><circle cx="58.6" cy="686.5" r="1.5"/><circle cx="77" cy="684.5" r="1.8"/><circle cx="38" cy="680" r="1.4"/></g>
    </g>
  </g>
</defs>
<use href="#ws"/>
<use href="#ws" x="459"/>


<!-- ============ LEFT SOURCES ============ -->
<defs>
  <linearGradient id="pcscr" x1="0" y1="0" x2="0" y2="1">
    <stop offset="0" stop-color="#3a9be2"/>
    <stop offset="1" stop-color="#1a64a4"/>
  </linearGradient>
  <linearGradient id="camcap" x1="0" y1="0" x2="1" y2="0">
    <stop offset="0" stop-color="#444"/>
    <stop offset="0.35" stop-color="#6e6e6e"/>
    <stop offset="0.6" stop-color="#5a5a5a"/>
    <stop offset="1" stop-color="#3a3a3a"/>
  </linearGradient>
  <radialGradient id="camdome" cx="0.45" cy="0.35" r="0.7">
    <stop offset="0" stop-color="#6a6a6a"/>
    <stop offset="1" stop-color="#333"/>
  </radialGradient>
  <g id="domecam">
    <path d="M1.2,14 L1.5,19 Q1,30 6,39 Q14,51.5 29,51.8 Q42,51.5 48,42 Q51.5,35 51.3,20 L51.3,14 z" fill="url(#camdome)"/>
    <path d="M0,17.5 Q0,8 10,4.5 Q18,1.2 26,0.8 Q40,1 47,5 Q52,9 51.6,17 L51,20.5 Q48,15.5 36,15 Q22,15 12,17.5 Q5,19 2.9,21.5 Q0,20 0,17.5z" fill="url(#camcap)"/>
    <path d="M2.9,21.5 Q5,19 12,17.5 Q22,15 36,15 Q48,15.5 51,20.5" stroke="#222" stroke-width="1" fill="none"/>
    <path d="M3,10 Q25,2 49,8" stroke="#7a7a7a" stroke-width="0.6" fill="none" opacity="0.6"/>
    <path d="M22,18.5 Q34,14.5 46,16.5 L49.5,25 Q42,20 31,23 Q26,24.5 24,25z" fill="#1c1c1c"/>
    <path d="M5.4,34 Q14,24 24.7,19.7" stroke="#2a2a2a" stroke-width="0.9" fill="none"/>
    <path d="M10.5,32 Q14,30 18,30.5 L17.5,39.5 Q13,39 11,36z" fill="#e4e4e4"/>
    <circle cx="34.4" cy="36.5" r="11.3" fill="#5e5e5e"/>
    <circle cx="34.4" cy="36.5" r="10" fill="#2a2a2a"/>
    <circle cx="34.4" cy="36.5" r="8.6" fill="#6a6a6a"/>
    <circle cx="34.4" cy="36.5" r="7" fill="#0c0c0c"/>
    <circle cx="34.2" cy="36.3" r="4" fill="#1e1e1e"/>
    <circle cx="34" cy="36" r="2.7" fill="#a01aa8"/>
    <circle cx="33.2" cy="35" r="0.9" fill="#f0c0f4"/>
    <path d="M31,40.5 Q34,42 37,40.5" stroke="#ddd" stroke-width="0.6" fill="none"/>
  </g>
</defs>
<!-- PC -->
<rect x="32.2" y="255.2" width="16.6" height="35.8" rx="1" fill="#3c3c3c"/>
<rect x="33.6" y="256.6" width="6.5" height="33" fill="#222"/>
<rect x="41" y="256.6" width="6.5" height="33" fill="#262626"/>
<rect x="33.6" y="277.2" width="6.5" height="0.8" fill="#666"/>
<rect x="40.2" y="256.6" width="0.8" height="33" fill="#777"/>
<circle cx="43.6" cy="278.4" r="0.6" fill="#c03020"/>
<rect x="50.8" y="254" width="39" height="27.8" rx="0.5" fill="#2a2624"/>
<rect x="53" y="255.8" width="34.5" height="24" fill="url(#pcscr)"/>
<rect x="68.5" y="281.8" width="3" height="3.5" fill="#2a2a2a"/>
<ellipse cx="70.2" cy="286" rx="11.2" ry="1.3" fill="#262626"/>
<path d="M53.2,289.6 L88.5,289 L89,292.8 L53.6,292.8z" fill="#aeb4b8"/>
<rect x="54" y="289.8" width="34" height="0.8" fill="#e0e4e6"/>
<ellipse cx="94.8" cy="291" rx="2" ry="1.6" fill="#8a8e90"/>
<!-- dome camera left -->
<use href="#domecam" x="39" y="303"/>
<!-- camcorder -->
<path d="M41,372.5 L76.5,366 Q78.5,366 78.5,368 L78.5,377 L41,380z" fill="#363636"/>
<path d="M60,367 L70,366 L70,367.5 L60,368.5z" fill="#aaa" opacity="0.6"/>
<rect x="54.5" y="374.8" width="41" height="20" rx="2.5" fill="#2e2e2e"/>
<rect x="56" y="375.3" width="38" height="1" fill="#4a4a4a"/>
<rect x="95" y="377" width="2.5" height="15" rx="1" fill="#222"/>
<rect x="47" y="377" width="10" height="18" fill="#262626"/>
<rect x="53" y="383.6" width="19" height="4.2" rx="2" fill="#3c3c3c"/>
<ellipse cx="40.8" cy="383.6" rx="7.6" ry="11" fill="#cfcfcf"/>
<ellipse cx="41" cy="383.6" rx="6.2" ry="9.6" fill="#111"/>
<ellipse cx="41.5" cy="383.4" rx="4" ry="6.4" fill="#5a4a28"/>
<ellipse cx="42" cy="382" rx="2.2" ry="3.2" fill="#8a7a48"/>
<!-- server -->
<rect x="25.9" y="416.8" width="90.6" height="20.1" fill="#4a4a4a"/>
<rect x="25.9" y="416.8" width="4" height="20.1" fill="#6a6a6a"/>
<rect x="112.5" y="416.8" width="4" height="20.1" fill="#6a6a6a"/>
<rect x="26.5" y="425" width="2" height="4" fill="#333"/>
<rect x="113.2" y="425" width="2" height="4" fill="#333"/>
<rect x="62" y="417.8" width="16.5" height="5" fill="#0a0a0a"/>
<rect x="62" y="430.8" width="16.5" height="5.2" fill="#0a0a0a"/>
<rect x="82" y="418.3" width="13" height="4" fill="#777"/>
<rect x="82" y="431" width="13" height="4" fill="#777"/>
<rect x="46.9" y="418.5" width="8.5" height="2.8" fill="#2fb0ef"/>
<rect x="46" y="431" width="9" height="3.5" fill="#6a6a6a"/>
<path d="M29.9,416.8 L36.5,416.8 L43,423.8 L98.5,423.8 L104.5,416.8 L112.5,416.8 L112.5,436.9 L104.5,436.9 L98.5,429.7 L43,429.7 L36.5,436.9 L29.9,436.9z" fill="#d6d6d6"/>
<!-- router -->
<rect x="589.2" y="287" width="2.4" height="25" rx="1" fill="#555"/>
<rect x="588.8" y="297" width="3.2" height="15" fill="#4a4a4a"/>
<rect x="619.5" y="287" width="2.4" height="25" rx="1" fill="#555"/>
<rect x="619.1" y="297" width="3.2" height="15" fill="#4a4a4a"/>
<path d="M585.6,311.1 L625.1,311.1 L630.8,321.1 L580,321.1z" fill="#dedede"/>
<rect x="579.2" y="320.8" width="52.5" height="5.8" rx="1.2" fill="#9a9a9a"/>
<circle cx="591" cy="323.7" r="1" fill="#222"/>
<circle cx="594.5" cy="323.7" r="0.9" fill="#1aa8f0"/>
<g fill="none" stroke="#1ab2f2" stroke-width="1.3" stroke-linecap="round">
  <path d="M600,303.5 A7.5,7.5 0 0 1 610.6,303.5"/>
  <path d="M601.9,305.4 A4.8,4.8 0 0 1 608.7,305.4"/>
</g>
<path d="M605.3,306.4 L607,308.1 L605.3,309.8 L603.6,308.1z" fill="#1ab2f2"/>
<!-- dome camera right -->
<use href="#domecam" x="724" y="439.5"/>
<!-- ============ RIGHT DEVICES ============ -->
<!-- wifi signal icons -->
<g id="wsig" fill="none" stroke="#4a4a4a" stroke-width="1.4" stroke-linecap="round">
  <path d="M706.5,271 A9,9 0 0 1 713,262"/>
  <path d="M709.3,271 A6,6 0 0 1 713.5,265"/>
  <path d="M712,271.5 A3,3 0 0 1 714,268.5"/>
</g>
<path d="M712.8,272 L714.6,268.5 L716.3,272z" fill="#4a4a4a"/>
<use href="#wsig" y="42.3"/>
<path d="M712.8,314.3 L714.6,310.8 L716.3,314.3z" fill="#4a4a4a"/>
<!-- tablet -->
<path d="M733.5,258 L773,260 Q775,260.5 774.5,262.5 L767.5,293 Q767,295 765,294.5 L725.5,286 Q723.8,285.5 724.3,283.5 L731,259.5 Q731.5,257.8 733.5,258z" fill="#2a2a2a"/>
<path d="M773.5,259.8 Q776.8,260.3 776.2,263.5 L769.2,295 Q768.2,296.8 765.8,296 L767.5,293.5 L774.5,262.5z" fill="#d0d0d0"/><path d="M775.5,263 L768.7,294.5" stroke="#888" stroke-width="0.4"/>
<defs><linearGradient id="tabscr" x1="0" y1="0" x2="0.3" y2="1"><stop offset="0" stop-color="#2a86dc"/><stop offset="1" stop-color="#0c4e9e"/></linearGradient></defs>
<path d="M734,261.2 L771,263 L764.5,291 L727.5,283.5z" fill="url(#tabscr)"/>
<path d="M743.5,270.5 Q745.5,269.5 747.5,270.3 L747,273.3 Q745,272.5 743,273.5z" fill="#f06a30"/>
<path d="M748,270.4 Q750,271.3 752,270.5 L751.5,273.5 Q749.5,274.2 747.5,273.4z" fill="#7ac040"/>
<path d="M742.8,274 Q744.8,273 746.8,273.8 L746.3,276.8 Q744.3,276 742.3,277z" fill="#30a0e8"/>
<path d="M747.3,273.9 Q749.3,274.8 751.3,274 L750.8,277 Q748.8,277.7 746.8,276.9z" fill="#f8c820"/>
<!-- laptop -->
<path d="M742.5,304.5 L782.5,303.5 Q783.5,303.5 783.3,305 L778,340 L735,335z" fill="#1a1a1a"/>
<path d="M744.3,306.2 L780.8,305.5 L776.2,337.8 L737.5,333.5z" fill="#4a4a4a"/>
<path d="M768,305.7 L780.8,305.5 L776.2,337.8 L752,335.2z" fill="#7a7a7a" opacity="0.55"/>
<path d="M706.4,337.8 L735,334.5 L778,339.5 L775.5,342.3 L745,346.5 Q725,343 706.4,339.5z" fill="#e2e2e4"/>
<path d="M706.4,339.3 Q725,343 745,346.5 L775.5,342.3 L775.3,343.5 L745,347.5 Q725,344 706.8,340.5z" fill="#9a9a9c"/>
<path d="M722,338.5 L735,337 L757,339.5 L744,341.8z" fill="#c4c4c6"/>
<!-- bulb -->
<circle cx="710.6" cy="372.1" r="6.5" fill="#fbb724"/>
<ellipse cx="709" cy="369.5" rx="2.5" ry="1.5" fill="#ffd868" opacity="0.8"/>
<path d="M707.5,377.5 L713.7,377.5 L713.5,383 Q712.5,385.3 710.6,385.3 Q708.7,385.3 707.7,383z" fill="#b4b4b4"/>
<!-- AC -->
<path d="M731.5,363.2 L780.5,363.2 Q781.8,363.2 781.8,364.5 L781.8,382 Q781.8,385.6 778,385.6 L734,385.6 Q730.2,385.6 730.2,382 L730.2,364.5 Q730.2,363.2 731.5,363.2z" fill="#e6e6e8"/>
<rect x="730.2" y="377" width="51.6" height="0.6" fill="#fff"/>
<path d="M730.2,380 L781.8,380 L781.8,382 Q781.8,385.6 778,385.6 L734,385.6 Q730.2,385.6 730.2,382z" fill="#cfcfd2"/>
<rect x="753.5" y="378.7" width="5" height="1.6" rx="0.8" fill="#222"/>
<rect x="773.5" y="364.5" width="4.3" height="5" fill="#38b8f0"/>
<rect x="774.3" y="365.3" width="2.7" height="3.4" fill="#e8f8ff"/>
<!-- blinds -->
<rect x="730" y="392.1" width="50.7" height="2.6" fill="#4a4a4a"/>
<g fill="#9dcc5c">
  <rect x="732.3" y="394.7" width="6.8" height="29" rx="1.5"/>
  <rect x="739.9" y="394.7" width="6.8" height="29" rx="1.5"/>
  <rect x="747.5" y="394.7" width="6.8" height="29" rx="1.5"/>
  <rect x="755.1" y="394.7" width="6.8" height="29" rx="1.5"/>
  <rect x="762.7" y="394.7" width="6.8" height="29" rx="1.5"/>
  <rect x="770.3" y="394.7" width="6.3" height="29" rx="1.5"/>
</g>
<g fill="#fff" opacity="0.85">
  <rect x="732.3" y="421.3" width="44" height="0.6"/>
  <rect x="739.3" y="394.7" width="0.5" height="29"/><rect x="746.9" y="394.7" width="0.5" height="29"/>
  <rect x="754.5" y="394.7" width="0.5" height="29"/><rect x="762.1" y="394.7" width="0.5" height="29"/>
  <rect x="769.7" y="394.7" width="0.5" height="29"/>
</g>
<g fill="#555"><circle cx="733.5" cy="395.5" r="0.8"/><circle cx="741" cy="395.5" r="0.8"/><circle cx="748.6" cy="395.5" r="0.8"/><circle cx="756.2" cy="395.5" r="0.8"/><circle cx="763.8" cy="395.5" r="0.8"/><circle cx="771.4" cy="395.5" r="0.8"/><circle cx="778" cy="395.5" r="0.8"/></g>
<line x1="779.3" y1="394.7" x2="779.3" y2="410" stroke="#888" stroke-width="0.6"/>
<rect x="777.8" y="409.5" width="3" height="3.5" rx="0.5" fill="#e0e0e0" stroke="#aaa" stroke-width="0.4"/>

<!-- ============ CONNECTION LINES ============ -->
<g fill="none" stroke="#7ba0a5" stroke-width="1">
  <!-- speakers -->
  <path d="M729.5,149 V136 Q729.5,132 725.5,132 H241.5 Q237.5,132 237.5,128 V85" marker-end="url(#ar)"/>
  <path d="M748.5,149 V124.5 Q748.5,120.5 744.5,120.5 H599.5 Q595.5,120.5 595.5,116.5 V85" marker-end="url(#ar)"/>
  <path d="M550.5,162.5 H702" marker-end="url(#ar)"/>
  <!-- switch up -->
  <path d="M406.5,295 V222.5 Q406.5,218.5 410.5,218.5 H422.5 Q426.5,218.5 426.5,214.5 V175" marker-end="url(#ar)"/>
  <path d="M377.5,326 V210.5 Q377.5,206.5 373.5,206.5 H209" marker-end="url(#ar)"/>
  <path d="M154,206.5 H106" marker-end="url(#ar)"/>
  <path d="M474.5,343 V218.5 Q474.5,214.5 478.5,214.5 H578" marker-end="url(#ar)"/>
  <path d="M631,214.5 H707.5" marker-end="url(#ar)"/>
  <!-- TX bus -->
  <path d="M209,273.5 H229.5 Q233.5,273.5 233.5,277.5 V423.5 Q233.5,427.5 229.5,427.5 H209"/>
  <path d="M209,381.5 H233.5"/><path d="M210.5,328.5 H233.5" stroke="#b8cdd0"/>
  <path d="M233.5,363.5 H374.5 Q378.5,363.5 378.5,359.5 V341"/>
  <path d="M97,273.5 H155" marker-end="url(#ar)"/>
  <path d="M91.5,329.5 H155" marker-end="url(#ar)"/>
  <path d="M97.5,381.5 H155" marker-end="url(#ar)"/>
  <path d="M117,427.5 H155" marker-end="url(#ar)"/>
  <!-- RX bottom-left -->
  <path d="M117.5,446 V475.5 Q117.5,479.5 121.5,479.5 H152.5" marker-end="url(#ar)"/>
  <path d="M208.5,479.5 H382.5 Q386.5,479.5 386.5,475.5 V345"/>
  <!-- router -->
  <path d="M499,327.5 H552.5 Q556.5,327.5 556.5,323.5 V310.5 Q556.5,306.5 560.5,306.5 H579" marker-end="url(#ar)"/>
  <!-- right RX bottom -->
  <path d="M474.5,358 V411.5 Q474.5,415.5 478.5,415.5 H580" marker-end="url(#ar)"/>
  <path d="M633,415.5 H674.5 Q678.5,415.5 678.5,411.5 V398.5 Q678.5,394.5 682.5,394.5 H701" marker-end="url(#ar)"/>
  <!-- camera -->
  <path d="M465.5,358 V460.5 Q465.5,464.5 469.5,464.5 H723.5" marker-end="url(#ar)"/>
  <!-- workstations -->
  <path d="M427.5,351 V527.5 Q427.5,531.5 423.5,531.5 H309.5" marker-end="url(#ar)"/>
  <path d="M435.5,351 V527.5 Q435.5,531.5 439.5,531.5 H519.5" marker-end="url(#ar)"/>
</g>


<!-- ============ EXTENDER DEVICES ============ -->
<use href="#dev" x="155" y="200"/>
<use href="#dev" transform="translate(310,156) scale(1.01,1)"/>
<use href="#dev" transform="translate(369.7,156) scale(1.01,1)"/>
<use href="#dev" transform="translate(428.8,156) scale(1.03,1)"/>
<use href="#dev" transform="translate(490,156) scale(1.03,1)"/>
<use href="#dev" transform="translate(580,207) scale(1.02,1)"/>
<use href="#dev" transform="translate(158,266.9) scale(1.02,0.95)"/>
<use href="#dev" transform="translate(158,322.1) scale(1.02,1)"/>
<use href="#dev" transform="translate(158,374.3) scale(1.02,1)"/>
<use href="#dev" transform="translate(158,420.3) scale(1.02,1)"/>
<use href="#dev" transform="translate(155,473) scale(1.01,0.95)"/>
<use href="#dev" transform="translate(582.5,409) scale(1.01,0.97)"/>
<g id="wsdevs">
  <rect x="61.5" y="511.5" width="247" height="38" rx="1.5" fill="none" stroke="#8ab2b8" stroke-width="1"/>
  <use href="#dev2" x="68" y="531"/>
  <use href="#dev2" x="127" y="531"/>
  <use href="#dev2" x="190.5" y="531"/>
  <use href="#dev2" x="250" y="531"/>
  <text x="184" y="523.5" font-size="10.5" fill="#3a6680" text-anchor="middle" textLength="10.5" lengthAdjust="spacingAndGlyphs">RX</text>
</g>
<use href="#wsdevs" x="459" y="0"/>
<!-- labels -->
<g font-size="10.5" fill="#3a6680" text-anchor="middle">
  <text x="181" y="196.5" textLength="10.5" lengthAdjust="spacingAndGlyphs">RX</text>
  <text x="426.5" y="148.3" textLength="10.5" lengthAdjust="spacingAndGlyphs">RX</text>
  <text x="611.3" y="200.3" textLength="10.5" lengthAdjust="spacingAndGlyphs">RX</text>
  <text x="182.5" y="263.7" textLength="10.5" lengthAdjust="spacingAndGlyphs">TX</text>
  <text x="182.5" y="319.2" textLength="10.5" lengthAdjust="spacingAndGlyphs">TX</text>
  <text x="182.5" y="371.5" textLength="10.5" lengthAdjust="spacingAndGlyphs">TX</text>
  <text x="182.5" y="417.7" textLength="10.5" lengthAdjust="spacingAndGlyphs">TX</text>
  <text x="182" y="469.7" textLength="10.5" lengthAdjust="spacingAndGlyphs">RX</text>
  <text x="611" y="403" textLength="10.5" lengthAdjust="spacingAndGlyphs">RX</text>
</g>

</svg>
</body></html>
